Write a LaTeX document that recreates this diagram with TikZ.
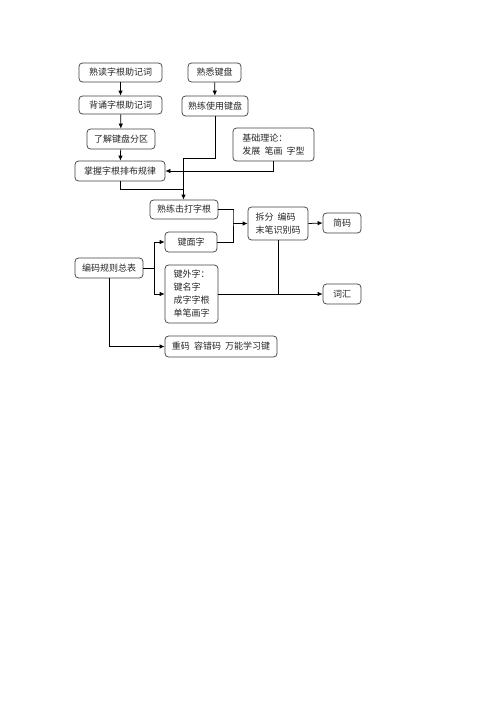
\documentclass[tikz,border=0pt]{standalone}
\usepackage{fontspec}
\newfontfamily\cjk{Noto Sans CJK SC}
\usetikzlibrary{arrows.meta,calc}
\begin{document}
\begin{tikzpicture}[x=1pt,y=-1pt,
  box/.style={draw=black!75,line width=0.75pt,rounded corners=3.5pt,inner sep=0pt,
    font=\cjk\fontsize{9}{13}\selectfont,text=black!85},
  conn/.style={line width=0.75pt,draw=black},
  arr/.style={conn,-{Latex[length=5pt,width=4.5pt]}}]
\useasboundingbox (0,0) rectangle (496,702);
% left column
\node[box,minimum width=83,minimum height=19] (b1) at (120.5,72.5) {熟读字根助记词};
\node[box,minimum width=83,minimum height=18] (b2) at (120.5,105) {背诵字根助记词};
\node[box,minimum width=68,minimum height=20] (b3) at (121,139) {了解键盘分区};
\node[box,minimum width=90,minimum height=20] (b4) at (120,171) {掌握字根排布规律};
% keyboard column
\node[box,minimum width=53,minimum height=19] (k1) at (214.5,72.5) {熟悉键盘};
\node[box,minimum width=66,minimum height=20] (k2) at (215,106) {熟练使用键盘};
\node[box,minimum width=81,minimum height=33,align=left] (th) at (273.5,144.5) {基础理论：\\发展\ \ 笔画\ \ 字型};
% middle
\node[box,minimum width=68,minimum height=19] (s) at (184,209.5) {熟练击打字根};
\node[box,minimum width=52,minimum height=20] (jm) at (191,242) {键面字};
\node[box,minimum width=68,minimum height=20] (bm) at (109,268) {编码规则总表};
\node[box,minimum width=53,minimum height=58,align=left] (jw) at (191.5,294) {键外字：\\键名字\\成字字根\\单笔画字};
\node[box,minimum width=112,minimum height=21] (cm) at (221,346.5) {重码\ \ 容错码\ \ 万能学习键};
\node[box,minimum width=60,minimum height=33,align=left] (cf) at (278,223.5) {拆分\ \ 编码\\末笔识别码};
\node[box,minimum width=38,minimum height=20] (jc) at (342,223) {简码};
\node[box,minimum width=38,minimum height=20] (ch) at (342,294) {词汇};
% junction coordinates
\coordinate (ja) at (183.5,158);
\coordinate (jb) at (183.5,189);
\coordinate (jc1) at (233,210);
\coordinate (jc2) at (233,223.5);
\coordinate (jd) at (154,268);
\coordinate (je) at (278,294);
% connectors
\draw[arr] (b1) -- (b2);
\draw[arr] (b2) -- (b3);
\draw[arr] (b3) -- (b4);
\draw[arr] (k1) -- (k2);
\draw[conn] (k2.south) |- (ja);
\draw[arr] (ja) -- (s.north -| ja);
\draw[conn] (b4.south) |- (jb);
\draw[arr] (th.south) |- (b4.east);
\draw[conn] (s.east) -| (jc1) |- (jm.east);
\draw[arr] (jc2) -- (cf.west);
\draw[conn] (bm.east) -- (jd);
\draw[arr] (jd) |- (jm.west);
\draw[arr] (jd) |- (jw.west);
\draw[arr] (bm.south) |- (cm.west);
\draw[arr] (cf.east) -- (jc.west);
\draw[conn] (cf.south) -- (je);
\draw[arr] (jw.east) -- (ch.west);
\end{tikzpicture}
\end{document}
